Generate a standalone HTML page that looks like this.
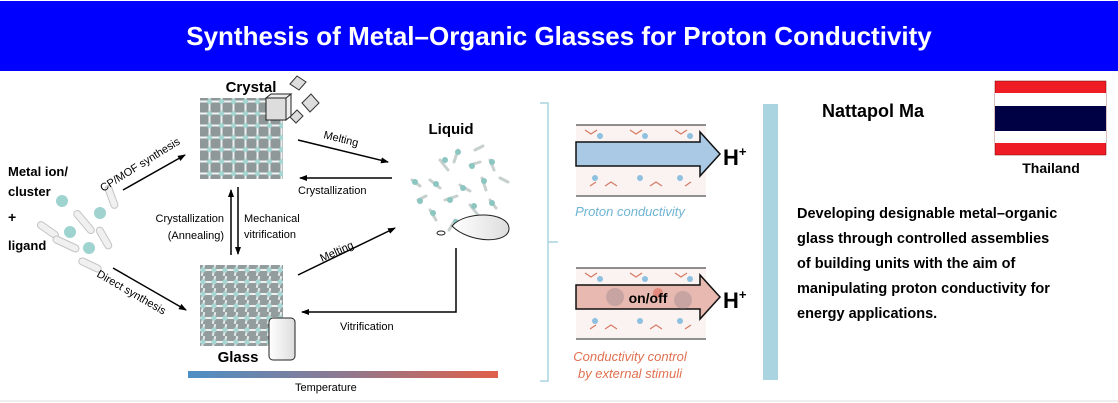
<!DOCTYPE html>
<html><head><meta charset="utf-8">
<style>
html,body{margin:0;padding:0;background:#fff;}
body{width:1118px;height:403px;position:relative;overflow:hidden;font-family:"Liberation Sans",sans-serif;}
.hdr{position:absolute;left:0;top:1px;width:1118px;height:70px;background:#0000fe;color:#fff;font-weight:bold;font-size:26px;text-align:center;line-height:70px;}
</style></head><body>
<div class="hdr">Synthesis of Metal–Organic Glasses for Proton Conductivity</div>
<svg width="1118" height="403" style="position:absolute;left:0;top:0" xmlns="http://www.w3.org/2000/svg">
<defs>
<pattern id="lat" width="12" height="12" patternUnits="userSpaceOnUse">
<rect width="12" height="12" fill="#8e9898"/>
<rect x="0" y="4.5" width="12" height="2" fill="#f2f4f4"/>
<rect x="4.5" y="0" width="2" height="12" fill="#eef1f0"/>
<circle cx="5.5" cy="5.5" r="2.6" fill="#a6d6d2"/>
</pattern>
<pattern id="lat2" width="11" height="12" patternUnits="userSpaceOnUse">
<rect width="11" height="12" fill="#949d9d"/>
<rect x="0" y="5" width="11" height="2" fill="#eef1f0"/>
<rect x="4" y="0" width="2" height="12" fill="#e6eaea" transform="rotate(12 5 6)"/>
<circle cx="5" cy="6" r="2.6" fill="#a6d6d2"/>
</pattern>
<linearGradient id="temp" x1="0" x2="1"><stop offset="0" stop-color="#4d8fc4"/><stop offset="0.5" stop-color="#8e7890"/><stop offset="1" stop-color="#e0604a"/></linearGradient>
<linearGradient id="blob" x1="0" x2="1"><stop offset="0" stop-color="#fff"/><stop offset="1" stop-color="#ddd"/></linearGradient>
<marker id="ah" markerWidth="8" markerHeight="8" refX="7" refY="4" orient="auto" markerUnits="userSpaceOnUse"><path d="M0,1 L8,4 L0,7z" fill="#000"/></marker>
</defs>
<g font-family="Liberation Sans, sans-serif">
<!-- crystal -->
<rect x="200" y="98" width="83" height="81" fill="url(#lat)"/>
<rect x="266" y="98" width="20" height="22" fill="#ddd" stroke="#222" stroke-width="1"/>
<path d="M266,98 l5,-4 h20 l-5,4z M286,98 l5,-4 v22 l-5,4z" fill="#eee" stroke="#222" stroke-width="1"/>
<path d="M290,84 l7,-8 l9,6 l-7,8z M302,103 l9,-9 l8,9 l-9,9z M290,117 l7,-7 l6,6 l-7,7z" fill="#ddd" stroke="#333" stroke-width="1"/>
<text x="251" y="92" font-size="15" font-weight="bold" text-anchor="middle">Crystal</text>
<!-- glass -->
<rect x="200" y="265" width="83" height="81" fill="url(#lat2)"/>
<rect x="269" y="318" width="26" height="42" rx="4" fill="url(#blob)" stroke="#222"/>
<text x="238" y="362" font-size="15" font-weight="bold" text-anchor="middle">Glass</text>
<!-- left -->
<text x="8" y="176" font-size="13" font-weight="bold">Metal ion/</text>
<text x="8" y="196" font-size="13" font-weight="bold">cluster</text>
<text x="8" y="222" font-size="14" font-weight="bold">+</text>
<text x="8" y="250" font-size="13" font-weight="bold">ligand</text>
<g fill="#f0f0f0" stroke="#c4c4c4">
<rect x="-3" y="-12" width="7" height="24" rx="3.5" transform="translate(111 197) rotate(-20)"/>
<rect x="-3.5" y="-14" width="7" height="28" rx="3.5" transform="translate(84 222) rotate(-40)"/>
<rect x="-3.5" y="-12" width="7" height="24" rx="3.5" transform="translate(48 230) rotate(-55)"/>
<rect x="-3.5" y="-14" width="7" height="28" rx="3.5" transform="translate(66 244) rotate(-65)"/>
<rect x="-3.5" y="-12" width="7" height="24" rx="3.5" transform="translate(104 238) rotate(-30)"/>
<rect x="-3.5" y="-12" width="7" height="24" rx="3.5" transform="translate(90 265) rotate(-65)"/>
</g>
<g fill="#9fd3cf"><circle cx="62" cy="201" r="6"/><circle cx="100" cy="213" r="6"/><circle cx="70" cy="232" r="6"/><circle cx="89" cy="248" r="6"/></g>
<!-- arrows -->
<g stroke="#000" stroke-width="1.5" fill="none" marker-end="url(#ah)">
<line x1="123" y1="190" x2="185" y2="155"/>
<line x1="113" y1="268" x2="186" y2="310"/>
<line x1="298" y1="140" x2="388" y2="162"/>
<line x1="392" y1="178" x2="300" y2="178"/>
<line x1="231" y1="255" x2="231" y2="190"/>
<line x1="238" y1="187" x2="238" y2="254"/>
<line x1="298" y1="275" x2="395" y2="228"/>
<polyline points="456,248 456,312 302,312"/>
</g>
<g font-size="11">
<text transform="translate(103 192) rotate(-32)">CP/MOF synthesis</text>
<text transform="translate(96 276) rotate(30)">Direct synthesis</text>
<text transform="translate(323 138) rotate(14)">Melting</text>
<text x="298" y="194">Crystallization</text>
<text x="224" y="222" text-anchor="end">Crystallization</text>
<text x="224" y="239" text-anchor="end">(Annealing)</text>
<text x="244" y="222">Mechanical</text>
<text x="244" y="238">vitrification</text>
<text transform="translate(322 262) rotate(-24)">Melting</text>
<text x="340" y="330">Vitrification</text>
<text x="295" y="391">Temperature</text>
</g>
<rect x="188" y="371" width="310" height="7" fill="url(#temp)"/>
<!-- liquid -->
<text x="451" y="134" font-size="15" font-weight="bold" text-anchor="middle">Liquid</text>
<g stroke="#c8d0cf" stroke-width="3" stroke-linecap="round">
<path d="M440,160 l8,10 M458,150 l-4,12 M470,165 l10,-3 M430,180 l10,8 M460,185 l10,6 M482,178 l4,12 M445,200 l12,-4 M470,205 l8,10 M430,210 l6,10 M490,200 l6,8 M455,220 l-6,10 M478,222 l10,-2 M412,180 l8,6 M418,200 l8,-4 M490,160 l4,10 M500,178 l8,4 M475,150 l8,-4"/>
</g>
<g fill="#8cc6c1"><circle cx="445" cy="160" r="3"/><circle cx="458" cy="152" r="3"/><circle cx="472" cy="166" r="3"/><circle cx="436" cy="184" r="3"/><circle cx="463" cy="188" r="3"/><circle cx="484" cy="181" r="3"/><circle cx="450" cy="200" r="3"/><circle cx="474" cy="206" r="3"/><circle cx="433" cy="213" r="3"/><circle cx="492" cy="203" r="3"/><circle cx="456" cy="222" r="3"/><circle cx="480" cy="224" r="3"/><circle cx="415" cy="182" r="3"/><circle cx="420" cy="201" r="3"/><circle cx="492" cy="162" r="3"/></g>
<path d="M452,226 C466,210 508,212 509,228 C510,244 470,244 452,226z" fill="url(#blob)" stroke="#222"/>
<ellipse cx="441" cy="233" rx="4" ry="2" fill="none" stroke="#222"/>
<!-- bracket -->
<path d="M540,103 h8 v278 h-8 M548,242 h10" fill="none" stroke="#a9d4e0" stroke-width="1.5"/>
<!-- proton panels -->
<g>
<rect x="576" y="125" width="130" height="70" fill="#fbf3f1"/>
<g fill="none" stroke="#d77a64" stroke-width="1.2">
<path d="M585,130 l6,4 l6,-4 M605,186 l6,-4 l6,4 M630,130 l6,4 l6,-4 M650,186 l6,-4 l6,4 M675,130 l6,4 l6,-4 M590,186 l6,-4 M685,186 l6,-4"/>
</g>
<g fill="#8ec0df"><circle cx="600" cy="136" r="3"/><circle cx="645" cy="136" r="3"/><circle cx="690" cy="136" r="3"/><circle cx="595" cy="178" r="3"/><circle cx="640" cy="178" r="3"/><circle cx="680" cy="178" r="3"/></g>
<line x1="576" y1="125" x2="706" y2="125" stroke="#222"/><line x1="576" y1="196" x2="706" y2="196" stroke="#222"/>
<path d="M576,142 h124 v-10 l20,22 l-20,22 v-10 h-124z" fill="#a9c9e4" stroke="#111" stroke-width="1.5"/>
<text x="723" y="165" font-size="22" font-weight="bold">H<tspan font-size="13" dy="-9">+</tspan></text>
<text x="630" y="216" font-size="13" font-style="italic" fill="#6eb4d4" text-anchor="middle">Proton conductivity</text>
<rect x="576" y="268" width="130" height="70" fill="#fbf3f1"/>
<g fill="none" stroke="#d77a64" stroke-width="1.2">
<path d="M585,273 l6,4 l6,-4 M605,329 l6,-4 l6,4 M630,273 l6,4 l6,-4 M650,329 l6,-4 l6,4 M675,273 l6,4 l6,-4 M590,329 l6,-4 M685,329 l6,-4"/>
</g>
<g fill="#8ec0df"><circle cx="600" cy="279" r="3"/><circle cx="645" cy="279" r="3"/><circle cx="690" cy="279" r="3"/><circle cx="595" cy="321" r="3"/><circle cx="640" cy="321" r="3"/><circle cx="680" cy="321" r="3"/></g>
<line x1="576" y1="268" x2="706" y2="268" stroke="#222"/><line x1="576" y1="339" x2="706" y2="339" stroke="#222"/>
<path d="M576,285 h124 v-10 l20,22 l-20,22 v-10 h-124z" fill="#e8b9b0" stroke="#111" stroke-width="1.5"/>
<circle cx="615" cy="297" r="9" fill="#8a7f88" opacity=".35"/><circle cx="683" cy="300" r="9" fill="#8a7f88" opacity=".35"/>
<circle cx="658" cy="293" r="5" fill="#e05a4a" opacity=".5"/>
<text x="648" y="303" font-size="14" font-weight="bold" text-anchor="middle">on/off</text>
<text x="723" y="308" font-size="22" font-weight="bold">H<tspan font-size="13" dy="-9">+</tspan></text>
<text x="630" y="361" font-size="13" font-style="italic" fill="#e0704f" text-anchor="middle">Conductivity control</text>
<text x="630" y="378" font-size="13" font-style="italic" fill="#e0704f" text-anchor="middle">by external stimuli</text>
</g>
<rect x="763" y="104" width="15" height="276" fill="#a9d4e0"/>
<!-- right -->
<text x="822" y="117" font-size="18" font-weight="bold">Nattapol Ma</text>
<rect x="995" y="81" width="111" height="74" fill="#ee1c25" stroke="#700" stroke-width=".5"/>
<rect x="995" y="93" width="111" height="50" fill="#fff"/>
<rect x="995" y="106" width="111" height="25" fill="#000044"/>
<text x="1051" y="173" font-size="14" font-weight="bold" text-anchor="middle">Thailand</text>
<g font-size="14.5" font-weight="bold">
<text x="797" y="218">Developing designable metal–organic</text>
<text x="797" y="243">glass through controlled assemblies</text>
<text x="797" y="268">of building units with the aim of</text>
<text x="797" y="293">manipulating proton conductivity for</text>
<text x="797" y="318">energy applications.</text>
</g>
<line x1="0" y1="401" x2="1118" y2="401" stroke="#ddd"/>
</g>
</svg>
</body></html>
